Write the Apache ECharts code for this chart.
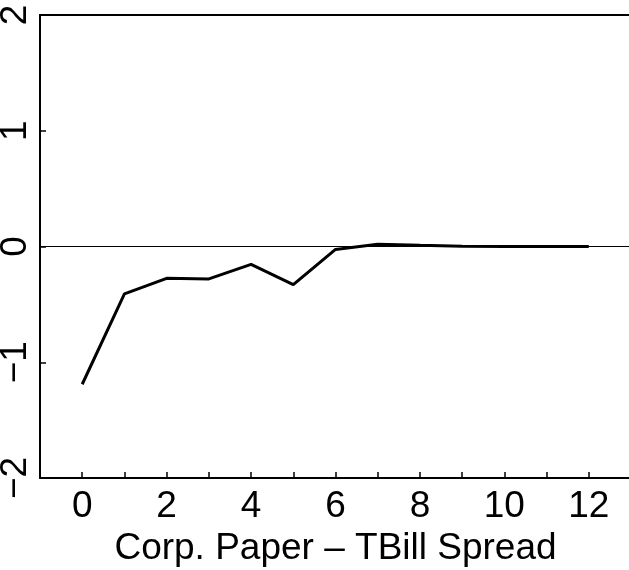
<!DOCTYPE html>
<html>
<head>
<meta charset="utf-8">
<script src="https://cdn.jsdelivr.net/npm/echarts@6/dist/echarts.min.js"></script>
<style>
  html, body { margin: 0; padding: 0; background: #fff; }
  #chart { width: 629px; height: 570px; }
</style>
</head>
<body>
<div id="chart"></div>
<script>
// impulse response, horizons 0..12
var horizons = [0, 1, 2, 3, 4, 5, 6, 7, 8, 9, 10, 11, 12];
var response = [-1.19, -0.41, -0.275, -0.28, -0.155, -0.33, -0.025, 0.02, 0.01, 0.003, 0, 0, 0];
var xTitle = "Corp. Paper \u2013 TBill Spread";

var myChart = echarts.init(document.getElementById("chart"));
var font = "Liberation Sans";

var option = {
  animation: false,
  backgroundColor: "#fff",
  grid: { left: 40, top: 15, right: -2, bottom: 92, outerBoundsMode: "none", containLabel: false },
  xAxis: [
    {
      type: "value",
      min: -1, max: 13, interval: 1,
      name: xTitle,
      nameLocation: "middle",
      nameGap: 51,
      nameTextStyle: { fontFamily: font, fontSize: 37, color: "#000" },
      axisLine: { onZero: false, lineStyle: { color: "#000", width: 2 } },
      axisTick: { inside: true, length: 6, lineStyle: { color: "#000", width: 1.5 } },
      axisLabel: {
        fontFamily: font, fontSize: 37, color: "#000", margin: 10,
        formatter: function (v) { return (v >= 0 && v % 2 === 0 && v <= 12) ? String(v) : ""; }
      },
      splitLine: { show: false }
    },
    {
      // top frame line
      type: "value", position: "top",
      min: -1, max: 13,
      axisLine: { onZero: false, lineStyle: { color: "#000", width: 2 } },
      axisTick: { show: false },
      axisLabel: { show: false },
      splitLine: { show: false }
    }
  ],
  yAxis: {
    type: "value",
    min: -2, max: 2, interval: 1,
    axisLine: { onZero: false, lineStyle: { color: "#000", width: 2 } },
    axisTick: { inside: true, length: 6, lineStyle: { color: "#000", width: 1.5 } },
    axisLabel: {
      fontFamily: font, fontSize: 37, color: "#000", rotate: 90, margin: 6,
      formatter: function (v) { return String(v).replace("-", "\u2212"); }
    },
    splitLine: { show: false }
  },
  series: [
    {
      type: "line",
      data: horizons.map(function (h, i) { return [h, response[i]]; }),
      symbol: "none",
      lineStyle: { color: "#000", width: 3 },
      markLine: {
        silent: true,
        symbol: "none",
        label: { show: false },
        lineStyle: { color: "#000", width: 1, type: "solid" },
        data: [{ yAxis: 0 }]
      }
    }
  ]
};

option && myChart.setOption(option);
</script>
</body>
</html>
